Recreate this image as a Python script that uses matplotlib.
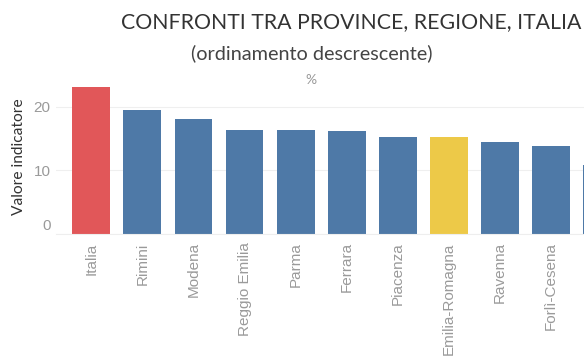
import matplotlib.pyplot as plt
from matplotlib.transforms import ScaledTranslation

# Valori dell'indicatore (%), in ordine decrescente
territori = ['Italia', 'Rimini', 'Modena', 'Reggio Emilia', 'Parma', 'Ferrara',
             'Piacenza', 'Emilia-Romagna', 'Ravenna', 'Forlì-Cesena', 'Bologna']
valori = [23.1, 19.4, 18.0, 16.4, 16.4, 16.2, 15.2, 15.2, 14.4, 13.8, 10.8]
livello = ['nazione', 'provincia', 'provincia', 'provincia', 'provincia', 'provincia',
           'provincia', 'regione', 'provincia', 'provincia', 'provincia']
y_ticks = [0, 10, 20]

colori = {'nazione': '#E15759', 'provincia': '#4E79A7', 'regione': '#EDC948'}

W, H = 584, 359
fig = plt.figure(figsize=(W / 100, H / 100), dpi=100)
fig.patch.set_facecolor('white')

# l'asse prosegue oltre il bordo destro (Bologna resta tagliata)
x0_px, x1_px = 56, 627.8
zero_px, top_px = 234, 81.1
ax = fig.add_axes([x0_px / W, 1 - zero_px / H, (x1_px - x0_px) / W, (zero_px - top_px) / H])

x = range(len(territori))
ax.bar(x, valori, width=0.74, color=[colori[l] for l in livello], zorder=2)

ax.set_xlim(-0.69, 10.5)
ax.set_ylim(0, 24)
ax.set_yticks(y_ticks)
ax.set_xticks(list(x))
ax.set_xticklabels(territori, rotation=90, va='top', ha='center',
                   family='Liberation Sans', fontsize=11, color='#9a9a9a')
# l'etichetta dell'ultima barra cade fuori dalla figura
ax.get_xticklabels()[-1].set_visible(False)
ax.tick_params(axis='x', length=0, pad=6)
ax.tick_params(axis='y', length=0, pad=4, labelsize=11, labelcolor='#9a9a9a')
for lbl in ax.get_yticklabels():
    lbl.set_family('Liberation Sans')
# lo zero sta un po' sopra la linea di base
zero_lbl = ax.get_yticklabels()[0]
zero_lbl.set_transform(zero_lbl.get_transform() + ScaledTranslation(0, 0.09, fig.dpi_scale_trans))

ax.grid(axis='y', color='#efefef', linewidth=0.8, zorder=0)
for s in ['top', 'right', 'left']:
    ax.spines[s].set_visible(False)
ax.spines['bottom'].set_color('#eeeeee')
ax.spines['bottom'].set_linewidth(0.8)

fig.text(351.5 / W, 1 - 28.3 / H, 'CONFRONTI TRA PROVINCE, REGIONE, ITALIA',
         ha='center', va='baseline', fontsize=15.3, family='Lato', color='#333333')
fig.text(312 / W, 1 - 59.3 / H, '(ordinamento descrescente)',
         ha='center', va='baseline', fontsize=14.3, family='Lato', color='#444444')
fig.text(311 / W, 1 - 80 / H, '%', ha='center', va='center',
         fontsize=10, family='Lato', color='#999999')
fig.text(19.5 / W, 1 - 156.5 / H, 'Valore indicatore', rotation=90,
         ha='center', va='center', fontsize=11.2, family='Lato', color='#333333')

fig.savefig('out.png', dpi=100)
